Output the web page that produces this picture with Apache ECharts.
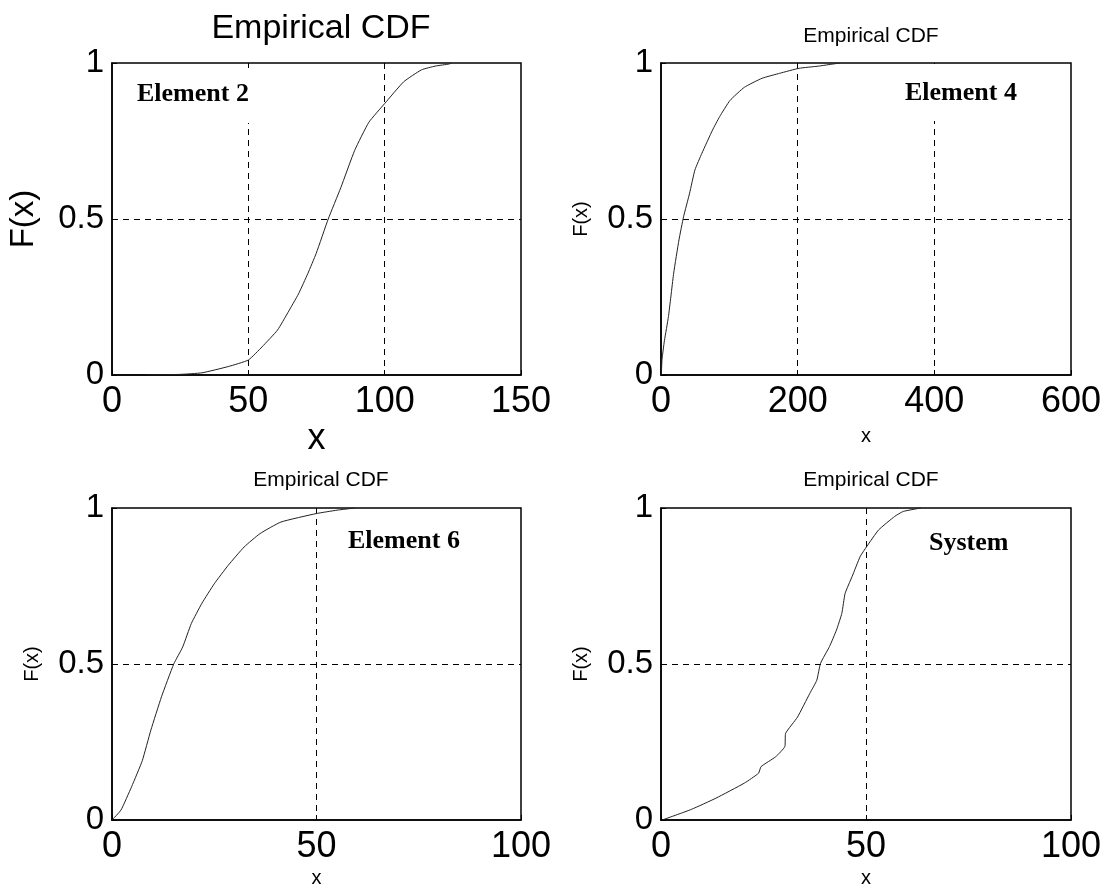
<!DOCTYPE html>
<html>
<head>
<meta charset="utf-8">
<script src="https://cdn.jsdelivr.net/npm/echarts@6/dist/echarts.min.js"></script>
<style>
  html, body { margin: 0; padding: 0; background: #fff; }
  #chart { width: 1103px; height: 885px; }
</style>
</head>
<body>
<div id="chart"></div>
<script>
// Element 2
var e2X = [12.8, 25, 33, 42.6, 50, 55, 60.7, 64.5, 68.4, 71.8, 74.9, 79.3, 83.9, 89, 94.2, 100, 107, 113.5, 118.5, 123.8, 124.5];
var e2F = [0, 0.002, 0.007, 0.027, 0.048, 0.09, 0.144, 0.2, 0.26, 0.325, 0.39, 0.5, 0.6, 0.72, 0.81, 0.87, 0.94, 0.978, 0.99, 0.997, 1];
// Element 4
var e4X = [0.5, 1.5, 5, 10.9, 18.6, 26.3, 33, 41.9, 49.6, 59.9, 75.4, 85.8, 101, 121.9, 147.8, 173.7, 202, 230.6, 261.6];
var e4F = [0, 0.05, 0.11, 0.187, 0.327, 0.433, 0.507, 0.583, 0.657, 0.711, 0.785, 0.828, 0.88, 0.922, 0.951, 0.967, 0.983, 0.99, 1];
// Element 6
var e6X = [0, 2.2, 4.8, 7.4, 9.5, 12.1, 15.1, 17.3, 19.4, 22, 25, 28.4, 32.3, 36.2, 41.3, 49.9, 55, 59.4];
var e6F = [0, 0.032, 0.107, 0.19, 0.288, 0.395, 0.5, 0.555, 0.63, 0.695, 0.757, 0.816, 0.875, 0.918, 0.955, 0.982, 0.993, 1];
// System
var sysX = [0.3, 7.4, 13.4, 20.3, 23.8, 24.4, 28, 30.2, 30.4, 33.3, 36.3, 38, 38.9, 41.1, 42.8, 44.1, 44.9, 46.6, 48.6, 50.2, 53.1, 57, 59.1, 63.4];
var sysF = [0, 0.034, 0.07, 0.118, 0.15, 0.171, 0.203, 0.235, 0.278, 0.33, 0.406, 0.448, 0.502, 0.556, 0.609, 0.662, 0.726, 0.78, 0.845, 0.877, 0.93, 0.973, 0.989, 1];

var xMax = [150, 600, 100, 100];
var xStep = [50, 200, 50, 50];
var yTicks = [0, 0.5, 1];
var titles = ['Empirical CDF', 'Empirical CDF', 'Empirical CDF', 'Empirical CDF'];
var tags = ['Element 2', 'Element 4', 'Element 6', 'System'];

function pairs(xs, ys) {
  var out = [];
  for (var i = 0; i < xs.length; i++) out.push([xs[i], ys[i]]);
  return out;
}
var curves = [pairs(e2X, e2F), pairs(e4X, e4F), pairs(e6X, e6F), pairs(sysX, sysF)];

var chart = echarts.init(document.getElementById('chart'));
var font = 'Liberation Sans, Arial, sans-serif';
var serif = 'Liberation Serif, Times New Roman, serif';

var grids = [
  {left: 112, top: 63, width: 409, height: 312},
  {left: 661, top: 63, width: 410, height: 312},
  {left: 112, top: 508, width: 409, height: 312},
  {left: 661, top: 508, width: 410, height: 312}
];
grids.forEach(function (g) {
  g.show = true; g.borderColor = '#000'; g.borderWidth = 1.5; g.backgroundColor = '#fff';
  g.outerBoundsMode = 'none'; g.containLabel = false;
});

var xNameGap = [42, 51, 48, 48];
var xAxes = [], yAxes = [], series = [];
for (var i = 0; i < 4; i++) {
  var big = (i === 0);
  xAxes.push({
    type: 'value', gridIndex: i, min: 0, max: xMax[i], interval: xStep[i],
    name: 'x', nameLocation: 'middle', nameGap: xNameGap[i],
    nameTextStyle: {fontFamily: font, fontSize: big ? 36 : 20, color: '#000'},
    axisLine: {lineStyle: {color: '#000', width: 1.5}},
    axisTick: {inside: true, length: 5, lineStyle: {color: '#000'}},
    axisLabel: {fontFamily: font, fontSize: 36, color: '#000', margin: 9},
    splitLine: {show: true, showMinLine: false, showMaxLine: false, lineStyle: {color: '#000', type: [6, 5], width: 1}}
  });
  yAxes.push({
    type: 'value', gridIndex: i, min: yTicks[0], max: yTicks[2], interval: yTicks[1] - yTicks[0],
    name: 'F(x)', nameLocation: 'middle', nameGap: big ? 72 : 70, nameRotate: 90,
    nameTextStyle: {fontFamily: font, fontSize: big ? 33 : 20, color: '#000'},
    axisLine: {lineStyle: {color: '#000', width: 1.5}},
    axisTick: {inside: true, length: 5, lineStyle: {color: '#000'}},
    axisLabel: {fontFamily: font, fontSize: 33, color: '#000', margin: 8},
    splitLine: {show: true, showMinLine: false, showMaxLine: false, lineStyle: {color: '#000', type: [6, 5], width: 1}}
  });
  series.push({
    type: 'line', xAxisIndex: i, yAxisIndex: i, data: curves[i],
    showSymbol: false, symbol: 'none', silent: true, animation: false,
    smooth: 0.15,
    lineStyle: {color: '#222', width: 1}
  });
}

var titleOpts = [
  {text: titles[0], left: 316, top: 7, textAlign: 'center', textStyle: {fontFamily: font, fontSize: 34, fontWeight: 'normal', color: '#000'}},
  {text: titles[1], left: 866, top: 21, textAlign: 'center', textStyle: {fontFamily: font, fontSize: 21, fontWeight: 'normal', color: '#000'}},
  {text: titles[2], left: 316, top: 465, textAlign: 'center', textStyle: {fontFamily: font, fontSize: 21, fontWeight: 'normal', color: '#000'}},
  {text: titles[3], left: 866, top: 465, textAlign: 'center', textStyle: {fontFamily: font, fontSize: 21, fontWeight: 'normal', color: '#000'}},
  {text: tags[0], left: 132, top: 68, padding: [13, 6, 16, 5], backgroundColor: '#fff', textStyle: {fontFamily: serif, fontSize: 26, fontWeight: 'bold', color: '#000'}},
  {text: tags[1], left: 900, top: 64, padding: [16, 6, 15, 5], backgroundColor: '#fff', textStyle: {fontFamily: serif, fontSize: 26, fontWeight: 'bold', color: '#000'}},
  {text: tags[2], left: 343, top: 523, padding: 5, textStyle: {fontFamily: serif, fontSize: 26, fontWeight: 'bold', color: '#000'}},
  {text: tags[3], left: 924, top: 525, padding: 5, textStyle: {fontFamily: serif, fontSize: 26, fontWeight: 'bold', color: '#000'}}
];

chart.setOption({
  backgroundColor: '#fff',
  animation: false,
  title: titleOpts,
  grid: grids,
  xAxis: xAxes,
  yAxis: yAxes,
  series: series
});
</script>
</body>
</html>
